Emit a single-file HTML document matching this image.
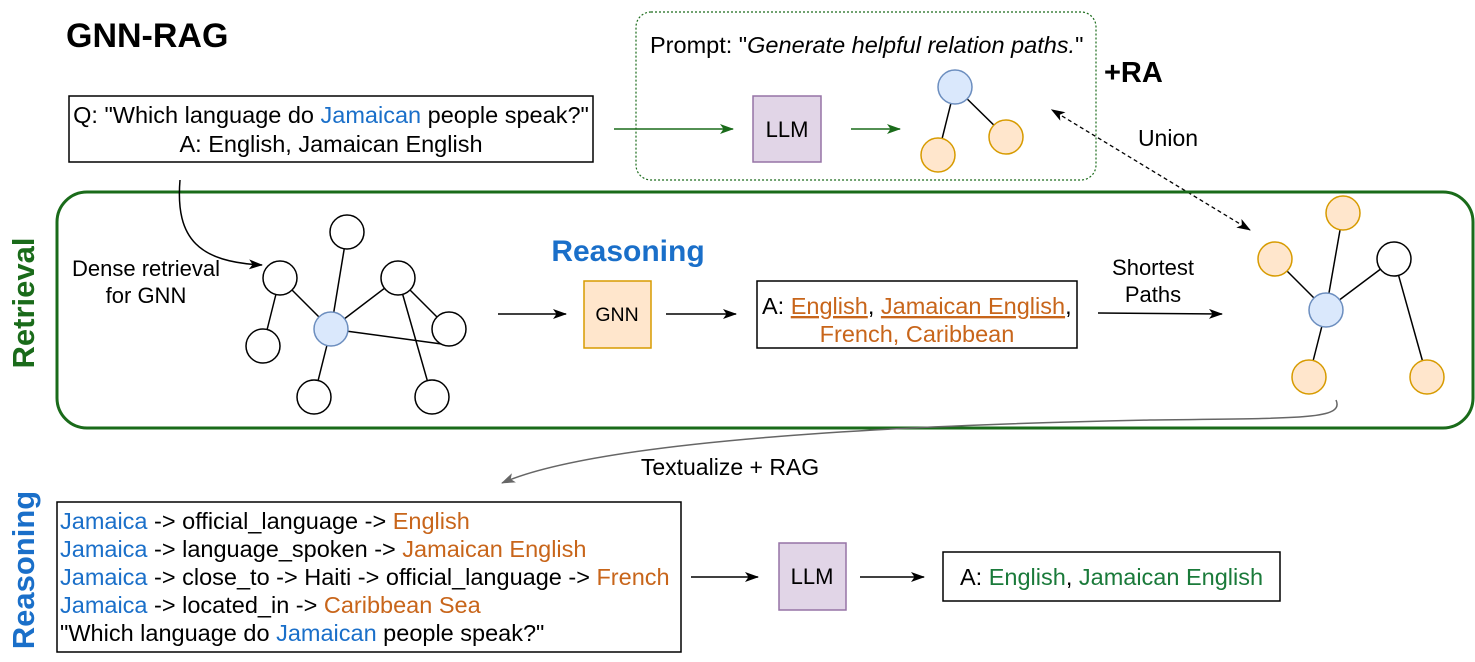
<!DOCTYPE html>
<html><head><style>
body{margin:0;background:#fff;width:1475px;height:657px;overflow:hidden;font-family:"Liberation Sans",sans-serif;}
svg text{font-family:"Liberation Sans",sans-serif;}
</style></head><body>
<svg width="1475" height="657" xmlns="http://www.w3.org/2000/svg">
<defs>
<marker id="a" markerWidth="14" markerHeight="10" refX="13" refY="5" orient="auto" markerUnits="userSpaceOnUse"><path d="M0,0 L14,5 L0,10 L3.5,5z" fill="#000"/></marker>
<marker id="g" markerWidth="14" markerHeight="10" refX="13" refY="5" orient="auto" markerUnits="userSpaceOnUse"><path d="M0,0 L14,5 L0,10 L3.5,5z" fill="#1a6b1a"/></marker>
<marker id="gr" markerWidth="14" markerHeight="10" refX="13" refY="5" orient="auto" markerUnits="userSpaceOnUse"><path d="M0,0 L14,5 L0,10 L3.5,5z" fill="#666"/></marker>
<marker id="as" markerWidth="14" markerHeight="10" refX="1" refY="5" orient="auto-start-reverse" markerUnits="userSpaceOnUse"><path d="M0,0 L14,5 L0,10 L3.5,5z" fill="#000"/></marker>
</defs>
<text x="66" y="47" font-size="34" font-weight="bold">GNN-RAG</text>
<text x="1104" y="82" font-size="29" font-weight="bold">+RA</text>
<rect x="636" y="12" width="460" height="168" rx="15" fill="none" stroke="#1a6b1a" stroke-dasharray="2,2" stroke-width="1.2"/>
<text x="650" y="53" font-size="23.5">Prompt: "<tspan font-style="italic">Generate helpful relation paths.</tspan>"</text>
<rect x="753" y="96" width="68" height="66" fill="#e1d5e7" stroke="#9673a6" stroke-width="1.5"/>
<text x="787" y="137" font-size="22" text-anchor="middle">LLM</text>
<line x1="614" y1="129" x2="733" y2="129" stroke="#1a6b1a" stroke-width="1.5" marker-end="url(#g)"/>
<line x1="851" y1="129" x2="900" y2="129" stroke="#1a6b1a" stroke-width="1.5" marker-end="url(#g)"/>
<line x1="955" y1="87" x2="938" y2="155" stroke="#000" stroke-width="1.5"/>
<line x1="955" y1="87" x2="1006" y2="137" stroke="#000" stroke-width="1.5"/>
<circle cx="955" cy="87" r="17" fill="#dae8fc" stroke="#6c8ebf" stroke-width="1.5"/>
<circle cx="938" cy="155" r="17" fill="#ffe6cc" stroke="#d79b00" stroke-width="1.5"/>
<circle cx="1006" cy="137" r="17" fill="#ffe6cc" stroke="#d79b00" stroke-width="1.5"/>
<rect x="69" y="96" width="524" height="66" fill="#fff" stroke="#000" stroke-width="1.5"/>
<text x="331" y="123" font-size="23.5" text-anchor="middle">Q: "Which language do <tspan fill="#1a6fc9">Jamaican</tspan> people speak?"</text>
<text x="331" y="152" font-size="23.5" text-anchor="middle">A: English, Jamaican English</text>
<text x="1168" y="146" font-size="23" text-anchor="middle">Union</text>
<line x1="1062" y1="116" x2="1250" y2="230" stroke="#000" stroke-width="1.3" stroke-dasharray="4,3" marker-start="url(#as)" marker-end="url(#a)"/>
<rect x="57" y="192" width="1416" height="236" rx="30" fill="none" stroke="#1a6b1a" stroke-width="3"/>
<text transform="translate(34,303) rotate(-90)" font-size="31" font-weight="bold" fill="#1a6b1a" text-anchor="middle">Retrieval</text>
<text transform="translate(34,570) rotate(-90)" font-size="31" font-weight="bold" fill="#1a6fc9" text-anchor="middle">Reasoning</text>
<path d="M180,180 C175,240 200,262 262,265" fill="none" stroke="#000" stroke-width="1.5" marker-end="url(#a)"/>
<text x="146" y="276" font-size="22" text-anchor="middle">Dense retrieval</text>
<text x="146" y="303" font-size="22" text-anchor="middle">for GNN</text>
<g stroke="#000" stroke-width="1.5">
<line x1="280" y1="278" x2="331" y2="329"/><line x1="347" y1="232" x2="331" y2="329"/>
<line x1="398" y1="278" x2="331" y2="329"/><line x1="331" y1="329" x2="449" y2="345"/>
<line x1="398" y1="278" x2="449" y2="329"/><line x1="398" y1="278" x2="432" y2="397"/>
<line x1="280" y1="278" x2="263" y2="346"/><line x1="331" y1="329" x2="314" y2="397"/>
</g>
<g fill="#fff" stroke="#000" stroke-width="1.5">
<circle cx="347" cy="232" r="17"/><circle cx="280" cy="278" r="17"/><circle cx="398" cy="278" r="17"/>
<circle cx="449" cy="329" r="17"/><circle cx="263" cy="346" r="17"/><circle cx="314" cy="397" r="17"/><circle cx="432" cy="397" r="17"/>
</g>
<circle cx="331" cy="329" r="17" fill="#dae8fc" stroke="#6c8ebf" stroke-width="1.5"/>
<text x="628" y="261" font-size="30" font-weight="bold" fill="#1a6fc9" text-anchor="middle">Reasoning</text>
<line x1="498" y1="314" x2="566" y2="314" stroke="#000" stroke-width="1.5" marker-end="url(#a)"/>
<rect x="584" y="281" width="67" height="67" fill="#ffe6cc" stroke="#d79b00" stroke-width="1.5"/>
<text x="617" y="321" font-size="19.5" text-anchor="middle">GNN</text>
<line x1="666" y1="314" x2="736" y2="314" stroke="#000" stroke-width="1.5" marker-end="url(#a)"/>
<rect x="757" y="281" width="320" height="67" fill="#fff" stroke="#000" stroke-width="1.5"/>
<text x="762" y="314" font-size="23.5">A: <tspan fill="#c8651a" text-decoration="underline">English</tspan>, <tspan fill="#c8651a" text-decoration="underline">Jamaican English</tspan>,</text>
<text x="917" y="342" font-size="23.5" fill="#c8651a" text-anchor="middle">French, Caribbean</text>
<text x="1153" y="275" font-size="22" text-anchor="middle">Shortest</text>
<text x="1153" y="302" font-size="22" text-anchor="middle">Paths</text>
<line x1="1098" y1="313" x2="1222" y2="314" stroke="#000" stroke-width="1.5" marker-end="url(#a)"/>
<g stroke="#000" stroke-width="1.5">
<line x1="1343" y1="213" x2="1326" y2="310"/><line x1="1275" y1="259" x2="1326" y2="310"/>
<line x1="1394" y1="259" x2="1326" y2="310"/><line x1="1326" y1="310" x2="1309" y2="377"/>
<line x1="1394" y1="259" x2="1427" y2="377"/>
</g>
<g fill="#ffe6cc" stroke="#d79b00" stroke-width="1.5">
<circle cx="1343" cy="213" r="17"/><circle cx="1275" cy="259" r="17"/><circle cx="1309" cy="377" r="17"/><circle cx="1427" cy="377" r="17"/>
</g>
<circle cx="1394" cy="259" r="17" fill="#fff" stroke="#000" stroke-width="1.5"/>
<circle cx="1326" cy="310" r="17" fill="#dae8fc" stroke="#6c8ebf" stroke-width="1.5"/>
<path d="M1336,400 C1345,420 1300,418 1150,420 C900,425 600,440 502,483" fill="none" stroke="#666" stroke-width="1.5" marker-end="url(#gr)"/>
<text x="730" y="475" font-size="23" text-anchor="middle">Textualize + RAG</text>
<rect x="57" y="502" width="624" height="150" fill="#fff" stroke="#000" stroke-width="1.5"/>
<g font-size="23.5">
<text x="60" y="529"><tspan fill="#1a6fc9">Jamaica</tspan> -&gt; official_language -&gt; <tspan fill="#c8651a">English</tspan></text>
<text x="60" y="557"><tspan fill="#1a6fc9">Jamaica</tspan> -&gt; language_spoken -&gt; <tspan fill="#c8651a">Jamaican English</tspan></text>
<text x="60" y="585"><tspan fill="#1a6fc9">Jamaica</tspan> -&gt; close_to -&gt; Haiti -&gt; official_language -&gt; <tspan fill="#c8651a">French</tspan></text>
<text x="60" y="613"><tspan fill="#1a6fc9">Jamaica</tspan> -&gt; located_in -&gt; <tspan fill="#c8651a">Caribbean Sea</tspan></text>
<text x="60" y="641">"Which language do <tspan fill="#1a6fc9">Jamaican</tspan> people speak?"</text>
</g>
<line x1="691" y1="577" x2="758" y2="577" stroke="#000" stroke-width="1.5" marker-end="url(#a)"/>
<rect x="779" y="543" width="67" height="67" fill="#e1d5e7" stroke="#9673a6" stroke-width="1.5"/>
<text x="812" y="584" font-size="22" text-anchor="middle">LLM</text>
<line x1="860" y1="577" x2="924" y2="577" stroke="#000" stroke-width="1.5" marker-end="url(#a)"/>
<rect x="943" y="552" width="337" height="49" fill="#fff" stroke="#000" stroke-width="1.5"/>
<text x="960" y="585" font-size="23.5">A: <tspan fill="#1a7a3a">English</tspan>, <tspan fill="#1a7a3a">Jamaican English</tspan></text>
</svg>
</body></html>
